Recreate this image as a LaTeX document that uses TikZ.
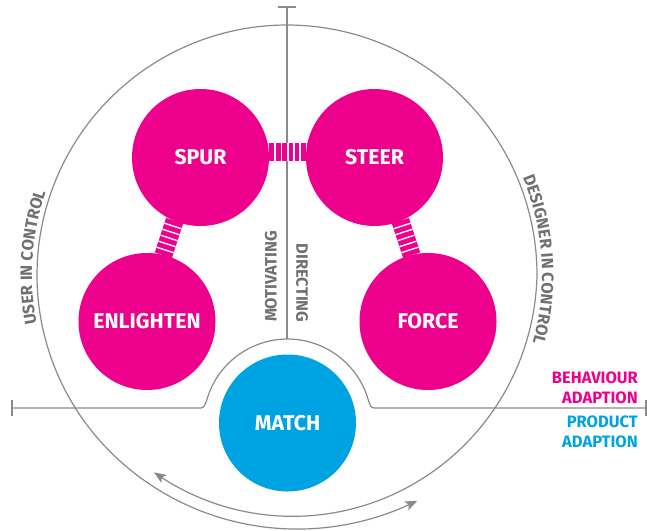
\documentclass[tikz,border=0pt]{standalone}
\usepackage{fontspec}
\setmainfont{Fira Sans}
\usetikzlibrary{arrows.meta,calc,decorations.text,backgrounds}
\definecolor{magentaA}{HTML}{EC008C}
\definecolor{cyanA}{HTML}{00A3E2}
\definecolor{lineGray}{HTML}{8A8A8A}
\definecolor{textGray}{HTML}{707070}
\newcommand\discfont{\bfseries\fontsize{21.3pt}{23pt}\selectfont}
\newcommand\labfont{\bfseries\fontsize{16.5pt}{18pt}\selectfont}

\begin{document}
\begin{tikzpicture}[x=1pt,y=-1pt,
  declare function={rr(\t)=250-0.097*max(\t,0)+0.0019*pow(max(-225-\t,0),2);},
  guide/.style={draw=lineGray, line width=1.2pt},
  tipped/.style={guide, -{Stealth[length=12pt,width=9.5pt,inset=2.5pt]}},
  disc/.style={circle, minimum size=137pt, inner sep=0pt, text=white, font=\discfont},
  pinkdisc/.style={disc, fill=magentaA},
  bluedisc/.style={disc, fill=cyanA},
  band/.style={draw=magentaA, line width=18pt},
  rungs/.style={draw=white, line width=18pt, dash pattern=on 1.4pt off 4.9pt, dash phase=0.7pt},
  glabel/.style={text=textGray, font=\labfont, inner sep=0pt},
  tag/.style={font=\labfont, inner sep=0pt, anchor=base east}
]
\useasboundingbox (0,0) rectangle (647,530);

% the five stages
\node[pinkdisc] (spur)  at (200.5,157.5) {SPUR};
\node[pinkdisc] (steer) at (374.5,157.5) {STEER};
\node[pinkdisc] (enl)   at (147,321.5)   {ENLIGHTEN};
\node[pinkdisc] (force) at (428,321.5)   {FORCE};
\node[bluedisc] (match) at (287.5,423)   {MATCH};

% axis labels
\node[glabel, rotate=90]  (motiv) at (271,276.5) {MOTIVATING};
\node[glabel, rotate=-90] (direc) at (302,283)   {DIRECTING};

\node[tag, text=magentaA] (beh1)  at (638,383.5) {BEHAVIOUR};
\node[tag, text=magentaA] (beh2)  at (638,403)   {ADAPTION};
\node[tag, text=cyanA]    (prod1) at (638,427)   {PRODUCT};
\node[tag, text=cyanA]    (prod2) at (638,447)   {ADAPTION};

\begin{scope}[on background layer]
  % vertical axis with end tick
  \draw[guide] (287,7) -- (287,339);
  \draw[guide] (278,7) -- (296,7);
  % horizontal axis bending over the match stage
  \draw[guide] (12,408) -- (201,408)
    .. controls (204,408) and (205.6,404.2) .. (206.4,401.3)
    arc[start angle=195, end angle=345, radius=84]
    .. controls (369.4,404.2) and (371,408) .. (374,408) -- (647,408);
  \draw[guide] (12,400) -- (12,416);
  \draw[guide] (646,400) -- (646,416);

  % surrounding cycle with arrow ends, and its side labels
  \begin{scope}[shift={(287,275)}]
    \draw[guide] plot[domain=120.5:-296.5, samples=420] ({\x}:{rr(\x)});
    \draw[tipped] ({120.5}:{rr(120.5)}) -- ({124}:{rr(124)});
    \draw[tipped] ({-296.5}:{rr(-296.5)}) -- ({-300}:{rr(-300)});
    \path[decorate, decoration={text along path, text align=center,
        text={|\labfont\color{textGray}|USER IN CONTROL}}]
      (164:255) arc[start angle=164, end angle=204, radius=255];
    \path[decorate, decoration={text along path, text align=center,
        text={|\labfont\color{textGray}|DESIGNER IN CONTROL}}]
      (-25:255) arc[start angle=-25, end angle=18, radius=255];
  \end{scope}

  % striped bridges between neighbouring stages
  \coordinate (t1) at ([yshift=5.5pt]spur.center);
  \coordinate (t2) at ([yshift=5.5pt]steer.center);
  \coordinate (tm) at ($(t1)!0.5!(t2)$);
  \coordinate (l1) at ($(spur.center)!5pt!-90:(enl.center)$);
  \coordinate (l2) at ($(enl.center)!5pt!90:(spur.center)$);
  \coordinate (lm) at ($(l1)!0.5!(l2)$);
  \coordinate (r1) at ($(steer.center)!5pt!90:(force.center)$);
  \coordinate (r2) at ($(force.center)!5pt!-90:(steer.center)$);
  \coordinate (rm) at ($(r1)!0.5!(r2)$);
  \draw[band] (t1) -- (t2);
  \draw[rungs] (tm) -- (t1);
  \draw[rungs] (tm) -- (t2);
  \draw[band] (l1) -- (l2);
  \draw[rungs] (lm) -- (l1);
  \draw[rungs] (lm) -- (l2);
  \draw[band] (r1) -- (r2);
  \draw[rungs] (rm) -- (r1);
  \draw[rungs] (rm) -- (r2);
\end{scope}
\end{tikzpicture}
\end{document}
